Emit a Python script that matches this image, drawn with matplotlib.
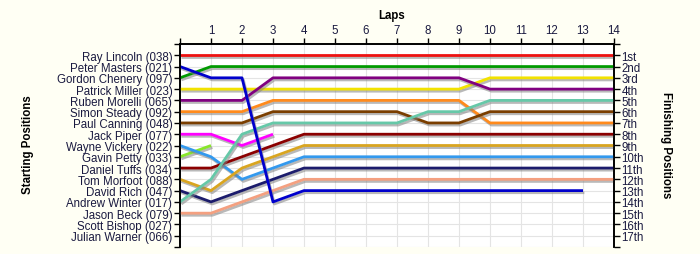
import matplotlib
matplotlib.use("Agg")
import matplotlib.pyplot as plt
import matplotlib.patheffects as pe
import numpy as np

plt.rcParams['font.family'] = ['Liberation Sans', 'DejaVu Sans']

laps = list(range(0, 15))
drivers = ["Ray Lincoln (038)", "Peter Masters (021)", "Gordon Chenery (097)",
           "Patrick Miller (023)", "Ruben Morelli (065)", "Simon Steady (092)",
           "Paul Canning (048)", "Jack Piper (077)", "Wayne Vickery (022)",
           "Gavin Petty (033)", "Daniel Tuffs (034)", "Tom Morfoot (088)",
           "David Rich (047)", "Andrew Winter (017)", "Jason Beck (079)",
           "Scott Bishop (027)", "Julian Warner (066)"]
finish_labels = ["1st", "2nd", "3rd", "4th", "5th", "6th", "7th", "8th", "9th",
                 "10th", "11th", "12th", "13th", "14th", "15th", "16th", "17th"]

N = None
ray     = [1, 1, 1, 1, 1, 1, 1, 1, 1, 1, 1, 1, 1, 1, 1]
peter   = [2, 3, 3, 14, 13, 13, 13, 13, 13, 13, 13, 13, 13, 13, N]
gordon  = [3, 2, 2, 2, 2, 2, 2, 2, 2, 2, 2, 2, 2, 2, 2]
patrick = [4, 4, 4, 4, 4, 4, 4, 4, 4, 4, 3, 3, 3, 3, 3]
ruben   = [5, 5, 5, 3, 3, 3, 3, 3, 3, 3, 4, 4, 4, 4, 4]
simon   = [6, 6, 6, 5, 5, 5, 5, 5, 5, 5, 7, 7, 7, 7, 7]
paul    = [7, 7, 7, 6, 6, 6, 6, 6, 7, 7, 6, 6, 6, 6, 6]
jack    = [8, 8, 9, 8, N, N, N, N, N, N, N, N, N, N, N]
wayne   = [9, 10, 12, 11, 10, 10, 10, 10, 10, 10, 10, 10, 10, 10, 10]
gavin   = [10, 9, N, N, N, N, N, N, N, N, N, N, N, N, N]
daniel  = [11, 11, 10, 9, 8, 8, 8, 8, 8, 8, 8, 8, 8, 8, 8]
tom     = [12, 13, 11, 10, 9, 9, 9, 9, 9, 9, 9, 9, 9, 9, 9]
david   = [13, 14, 13, 12, 11, 11, 11, 11, 11, 11, 11, 11, 11, 11, 11]
andrew  = [14, 12, 8, 7, 7, 7, 7, 7, 6, 6, 5, 5, 5, 5, 5]
jason   = [15, 15, 14, 13, 12, 12, 12, 12, 12, 12, 12, 12, 12, 12, 12]
scott   = [N] * 15
julian  = [N] * 15

series = [ray, peter, gordon, patrick, ruben, simon, paul, jack, wayne, gavin,
          daniel, tom, david, andrew, jason, scott, julian]
colors = ["#EE1111", "#0000CC", "#009900", "#F2E200", "#800080", "#FF8A1C",
          "#7A3E00", "#FF00FF", "#3399EE", "#88E62A", "#8B0000", "#D9A520",
          "#1C1C6C", "#66C8A8", "#F4A080", "#999999", "#999999"]

fig = plt.figure(figsize=(7.0, 2.55), dpi=100, facecolor="#FFFFF4")
ax = fig.add_axes([180/700, 1-248/255, 434/700, 203/255])
ax.set_facecolor("white")

order = [0, 2, 3, 4, 5, 6, 7, 9, 8, 10, 11, 12, 13, 14, 15, 16, 1]
for i in order:
    y = np.array([np.nan if v is None else v for v in series[i]], dtype=float)
    if np.all(np.isnan(y)):
        continue
    ax.plot(laps, y, color=colors[i], lw=2.0, solid_capstyle="butt",
            path_effects=[pe.SimpleLineShadow(offset=(1, -1.5), shadow_color="#808080", alpha=0.55),
                          pe.Normal()], zorder=3)

ax.set_xlim(0, 14)
ax.set_ylim(18, 0)
ax.set_xticks(laps)
ax.set_xticklabels([""] + [str(l) for l in laps[1:]])
ax.xaxis.tick_top()
ax.set_yticks(range(0, 19))
ax.set_yticklabels([""] + drivers + [""])
ax.grid(True, color="#E4E4E4", lw=0.8, zorder=0)
ax.set_axisbelow(True)

txtc = "#1A1A40"
fs = 8.3
ax.tick_params(axis="y", direction="out", length=4, width=1, labelsize=fs,
               labelcolor=txtc, pad=1.5)
ax.tick_params(axis="x", direction="out", length=4, width=1, labelsize=fs,
               labelcolor=txtc, pad=1.5, top=True, bottom=False)

ax2 = ax.twinx()
ax2.set_ylim(18, 0)
ax2.set_yticks(range(0, 19))
ax2.set_yticklabels([""] + finish_labels + [""])
ax2.tick_params(axis="y", direction="out", length=4, width=1, labelsize=fs,
                labelcolor=txtc, pad=1.5)

for a in (ax, ax2):
    a.spines["bottom"].set_visible(False)
    for s in ("left", "right", "top"):
        a.spines[s].set_color("black")
        a.spines[s].set_linewidth(1.2)

fig.text(392/700, 1-16/255, "Laps", ha="center", va="center",
         fontsize=fs, fontweight="bold", color="black")
fig.text(28/700, 1-145/255, "Starting Positions", ha="center", va="center",
         rotation=90, fontsize=fs, fontweight="bold", color="black")
fig.text(666/700, 1-145/255, "Finishing Positions", ha="center", va="center",
         rotation=-90, fontsize=fs, fontweight="bold", color="black")

fig.savefig("out.png", dpi=100, facecolor=fig.get_facecolor())
